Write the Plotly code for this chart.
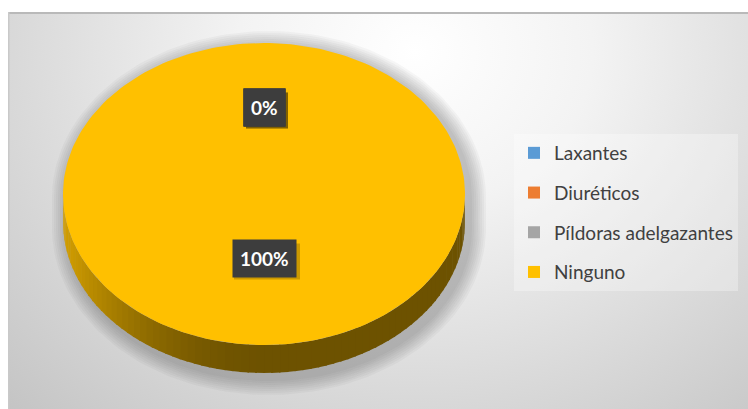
import base64
import numpy as np
import plotly.graph_objects as go

# Data
categories = ["Laxantes", "Diuréticos", "Píldoras adelgazantes", "Ninguno"]
values = [0, 0, 0, 100]
colors = ["#5B9BD5", "#ED7D31", "#A5A5A5", "#FFC000"]

# Canvas / pie geometry (pixel space, y grows downward)
W, H = 748, 409
CX, CY, RX, RY, DEPTH = 264, 194, 201, 151, 28


def hex_rgb(h):
    h = h.lstrip("#")
    return tuple(int(h[i:i + 2], 16) for i in (0, 2, 4))


def shade(h, f):
    r, g, b = hex_rgb(h)
    return "rgb(%d,%d,%d)" % (r * f, g * f, b * f)


def ell(theta, dy=0.0, grow=0.0):
    # theta measured clockwise from 12 o'clock
    return (CX + (RX + grow) * np.sin(theta), CY - (RY + grow) * np.cos(theta) + dy)


fig = go.Figure()

# soft drop shadow under the pie
for g in range(16, 0, -2):
    xs, ys = [], []
    for t in np.linspace(-np.pi / 2, np.pi / 2, 90):
        x, y = ell(t, 0, g)
        xs.append(x + 5); ys.append(y + 4)
    for t in np.linspace(np.pi / 2, 3 * np.pi / 2, 90):
        x, y = ell(t, DEPTH, g)
        xs.append(x + 5); ys.append(y + 6)
    fig.add_trace(go.Scatter(x=xs, y=ys, fill="toself", mode="lines",
                             line=dict(width=0), fillcolor="rgba(60,60,60,0.045)",
                             hoverinfo="skip", showlegend=False))

total = sum(values)
starts = np.cumsum([0] + values[:-1]) / total * 2 * np.pi
ends = np.cumsum(values) / total * 2 * np.pi

# side wall (front half of the cylinder), shaded by facing direction
for cat, col, a0, a1 in zip(categories, colors, starts, ends):
    lo, hi = max(a0, np.pi / 2), min(a1, 3 * np.pi / 2)
    if hi <= lo:
        continue
    n = max(2, int(80 * (hi - lo) / np.pi))
    edges = np.linspace(lo, hi, n + 1)
    for t0, t1 in zip(edges[:-1], edges[1:]):
        tm = (t0 + t1) / 2
        f = 0.43 + 0.40 * max(0.0, -np.sin(tm)) ** 2
        seg = np.linspace(t0 - 0.004, t1 + 0.004, 4)
        pts = [ell(t) for t in seg] + [ell(t, DEPTH) for t in seg[::-1]]
        fig.add_trace(go.Scatter(x=[p[0] for p in pts], y=[p[1] for p in pts],
                                 fill="toself", mode="lines", line=dict(width=0),
                                 fillcolor=shade(col, f), hoverinfo="skip",
                                 showlegend=False, legendgroup=cat))

# top face slices
for cat, col, a0, a1, v in zip(categories, colors, starts, ends, values):
    if v <= 0:
        continue
    ts = np.linspace(a0, a1, max(3, int(240 * (a1 - a0) / (2 * np.pi))))
    pts = [(CX, CY)] + [ell(t) for t in ts] + [(CX, CY)]
    fig.add_trace(go.Scatter(x=[p[0] for p in pts], y=[p[1] for p in pts],
                             fill="toself", mode="lines", line=dict(width=0),
                             fillcolor=col, name=cat, hoverinfo="name",
                             showlegend=False, legendgroup=cat))

# legend entries
for cat, col in zip(categories, colors):
    fig.add_trace(go.Scatter(x=[None], y=[None], mode="markers", name=cat,
                             legendgroup=cat,
                             marker=dict(symbol="square", size=10, color=col)))

# percentage labels, one per slice (zero slices stack at the same spot)
for v, a0, a1 in zip(values, starts, ends):
    mid = (a0 + a1) / 2
    lx = CX + 0.5 * RX * np.sin(mid)
    ly = CY - 0.5 * RY * np.cos(mid) - 11
    txt = "<b>%d%%</b>" % round(100 * v / total)
    # small drop shadow behind the label box
    hw = 9 + 6.0 * len(txt.replace("<b>", "").replace("</b>", ""))
    fig.add_shape(type="rect", x0=lx - hw + 3, x1=lx + hw + 3,
                  y0=ly - 18 + 3, y1=ly + 18 + 3, xref="x", yref="y",
                  fillcolor="rgba(0,0,0,0.2)", line=dict(width=0), layer="above")
    fig.add_annotation(x=lx, y=ly, text=txt, showarrow=False,
                       font=dict(family="Lato", size=19, color="white"),
                       bgcolor="#3d3d3d", borderpad=7)

# chart-area background: soft radial gradient
svg = (
    '<svg xmlns="http://www.w3.org/2000/svg" width="740" height="397" '
    'preserveAspectRatio="none">'
    '<defs><radialGradient id="g" cx="0.55" cy="0.1" r="0.8" '
    'gradientTransform="translate(0.55 0.1) scale(1 1.6) translate(-0.55 -0.1)">'
    '<stop offset="0" stop-color="#ffffff"/>'
    '<stop offset="0.3" stop-color="#f3f3f3"/>'
    '<stop offset="1" stop-color="#c3c3c3"/>'
    '</radialGradient></defs>'
    '<rect width="740" height="397" fill="url(#g)"/>'
    '<rect x="0" y="0" width="740" height="2" fill="#b9b9b9"/>'
    '<rect x="0" y="0" width="1.5" height="397" fill="#c9c9c9"/>'
    '</svg>'
)
src = "data:image/svg+xml;base64," + base64.b64encode(svg.encode()).decode()
fig.add_layout_image(source=src, xref="x", yref="y", x=8, y=12,
                     sizex=W - 8, sizey=H - 12, xanchor="left", yanchor="top",
                     sizing="stretch", layer="below")

fig.update_layout(
    width=W, height=H,
    margin=dict(l=0, r=0, t=0, b=0),
    paper_bgcolor="white", plot_bgcolor="rgba(0,0,0,0)",
    xaxis=dict(range=[0, W], visible=False, fixedrange=True),
    yaxis=dict(range=[H, 0], visible=False, fixedrange=True),
    showlegend=True,
    legend=dict(x=514 / W, y=1 - 134 / H, xanchor="left", yanchor="top",
                font=dict(family="Lato", size=19, color="#404040"),
                bgcolor="rgba(255,255,255,0.3)", tracegroupgap=12,
                itemsizing="constant"),
)

fig.write_html("out.html")
